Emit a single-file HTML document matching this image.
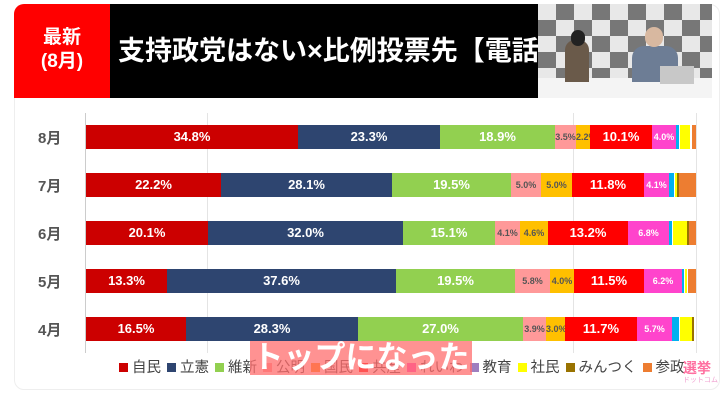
<!DOCTYPE html>
<html><head><meta charset="utf-8"><style>
*{margin:0;padding:0;box-sizing:border-box}
body{width:720px;height:400px;background:#fff;position:relative;overflow:hidden;font-family:"Liberation Sans","Noto Sans CJK JP",sans-serif}
.a{position:absolute}
.card{left:14px;top:4px;width:706px;height:386px;border:1px solid #eee;border-radius:10px;background:#fff}
.bar{position:absolute;height:24px}
.s{position:absolute;top:0;height:24px;color:#fff;font-weight:bold;font-size:13px;line-height:24px;text-align:center;white-space:nowrap;overflow:visible}
.sm{font-size:9px;color:#555}
.mo{position:absolute;left:38px;font-size:15px;font-weight:bold;color:#555}
.lg{left:113px;top:356px;font-size:14.5px;color:#444;white-space:nowrap}
.lg i{display:inline-block;width:9px;height:9px;margin:0 4px 0 6px}
</style></head><body>
<div class="a card"></div>
<div class="a" style="left:14px;top:4px;width:96px;height:94px;background:#ff0000;border-top-left-radius:10px;color:#fff;font-weight:bold;font-size:19px;text-align:center;line-height:24px;padding-top:22px">最新<br>(8月)</div>
<div class="a" style="left:110px;top:4px;width:428px;height:94px;background:#000;color:#fff;font-weight:bold;font-size:27px;line-height:94px;padding-left:8px;white-space:nowrap;overflow:hidden">支持政党はない×比例投票先【電話</div>
<div class="a" style="left:538px;top:4px;width:174px;height:76px;background:repeating-conic-gradient(#777 0 25%,#e8e8e8 0 50%) 0 0/36px 32px"></div>
<div class="a" style="left:538px;top:78px;width:174px;height:20px;background:#f4f4f4"></div>
<div class="a" style="left:565px;top:40px;width:24px;height:42px;background:#6a5a4a;border-radius:10px 10px 0 0"></div>
<div class="a" style="left:571px;top:30px;width:14px;height:16px;background:#222;border-radius:7px"></div>
<div class="a" style="left:632px;top:46px;width:46px;height:36px;background:#6d7d95;border-radius:12px 12px 0 0"></div>
<div class="a" style="left:645px;top:27px;width:18px;height:20px;background:#d8b8a0;border-radius:9px"></div>
<div class="a" style="left:660px;top:66px;width:34px;height:18px;background:#c8c8c8"></div>

<div class="a" style="left:85px;top:113px;width:1px;height:240px;background:#ccc"></div>
<div class="a" style="left:207px;top:113px;width:1px;height:240px;background:#e4e4e4"></div>
<div class="a" style="left:573px;top:113px;width:1px;height:240px;background:#e4e4e4"></div>
<div class="a" style="left:696px;top:113px;width:1px;height:240px;background:#e4e4e4"></div>

<div class="mo" style="top:127px">8月</div>
<div class="mo" style="top:175px">7月</div>
<div class="mo" style="top:223px">6月</div>
<div class="mo" style="top:271px">5月</div>
<div class="mo" style="top:319px">4月</div>

<div class="bar" style="top:125px;left:0">
<div class="s" style="left:86px;width:212px;background:#cc0000">34.8%</div>
<div class="s" style="left:298px;width:142px;background:#2e4570">23.3%</div>
<div class="s" style="left:440px;width:115px;background:#92d050">18.9%</div>
<div class="s sm" style="left:555px;width:21px;background:#ff9999">3.5%</div>
<div class="s sm" style="left:576px;width:14px;background:#ffc000">2.2%</div>
<div class="s" style="left:590px;width:62px;background:#ff0000">10.1%</div>
<div class="s sm" style="left:652px;width:24px;background:#ff44cc;color:#fff">4.0%</div>
<div class="s" style="left:676px;width:3px;background:#00b0f0"></div>
<div class="s" style="left:680px;width:10px;background:#ffff00"></div>
<div class="s" style="left:692px;width:4px;background:#ed7d31"></div>
</div>
<div class="bar" style="top:173px;left:0">
<div class="s" style="left:86px;width:135px;background:#cc0000">22.2%</div>
<div class="s" style="left:221px;width:171px;background:#2e4570">28.1%</div>
<div class="s" style="left:392px;width:119px;background:#92d050">19.5%</div>
<div class="s sm" style="left:511px;width:30px;background:#ff9999">5.0%</div>
<div class="s sm" style="left:541px;width:31px;background:#ffc000">5.0%</div>
<div class="s" style="left:572px;width:72px;background:#ff0000">11.8%</div>
<div class="s sm" style="left:644px;width:25px;background:#ff44cc;color:#fff">4.1%</div>
<div class="s" style="left:669px;width:5px;background:#00b0f0"></div>
<div class="s" style="left:675px;width:2px;background:#ffff00"></div>
<div class="s" style="left:677px;width:2px;background:#997300"></div>
<div class="s" style="left:679px;width:17px;background:#ed7d31"></div>
</div>
<div class="bar" style="top:221px;left:0">
<div class="s" style="left:86px;width:122px;background:#cc0000">20.1%</div>
<div class="s" style="left:208px;width:195px;background:#2e4570">32.0%</div>
<div class="s" style="left:403px;width:92px;background:#92d050">15.1%</div>
<div class="s sm" style="left:495px;width:25px;background:#ff9999">4.1%</div>
<div class="s sm" style="left:520px;width:28px;background:#ffc000">4.6%</div>
<div class="s" style="left:548px;width:80px;background:#ff0000">13.2%</div>
<div class="s sm" style="left:628px;width:41px;background:#ff44cc;color:#fff">6.8%</div>
<div class="s" style="left:669px;width:3px;background:#00b0f0"></div>
<div class="s" style="left:673px;width:14px;background:#ffff00"></div>
<div class="s" style="left:687px;width:2px;background:#997300"></div>
<div class="s" style="left:689px;width:7px;background:#ed7d31"></div>
</div>
<div class="bar" style="top:269px;left:0">
<div class="s" style="left:86px;width:81px;background:#cc0000">13.3%</div>
<div class="s" style="left:167px;width:229px;background:#2e4570">37.6%</div>
<div class="s" style="left:396px;width:119px;background:#92d050">19.5%</div>
<div class="s sm" style="left:515px;width:35px;background:#ff9999">5.8%</div>
<div class="s sm" style="left:550px;width:24px;background:#ffc000">4.0%</div>
<div class="s" style="left:574px;width:70px;background:#ff0000">11.5%</div>
<div class="s sm" style="left:644px;width:38px;background:#ff44cc;color:#fff">6.2%</div>
<div class="s" style="left:682px;width:2px;background:#00b0f0"></div>
<div class="s" style="left:685px;width:2px;background:#ffff00"></div>
<div class="s" style="left:688px;width:8px;background:#ed7d31"></div>
</div>
<div class="bar" style="top:317px;left:0">
<div class="s" style="left:86px;width:100px;background:#cc0000">16.5%</div>
<div class="s" style="left:186px;width:172px;background:#2e4570">28.3%</div>
<div class="s" style="left:358px;width:165px;background:#92d050">27.0%</div>
<div class="s sm" style="left:523px;width:23px;background:#ff9999">3.9%</div>
<div class="s sm" style="left:546px;width:19px;background:#ffc000">3.0%</div>
<div class="s" style="left:565px;width:72px;background:#ff0000">11.7%</div>
<div class="s sm" style="left:637px;width:35px;background:#ff44cc;color:#fff">5.7%</div>
<div class="s" style="left:672px;width:7px;background:#00b0f0"></div>
<div class="s" style="left:680px;width:12px;background:#ffff00"></div>
<div class="s" style="left:692px;width:2px;background:#997300"></div>
</div>

<div class="a lg"><i style="background:#cc0000"></i>自民<i style="background:#2e4570"></i>立憲<i style="background:#92d050"></i>維新<i style="background:#ff9999"></i>公明<i style="background:#ff8c00"></i>国民<i style="background:#ff0000"></i>共産<i style="background:#ff44cc"></i>れいわ<i style="background:#9e7fbf"></i>教育<i style="background:#ffff00"></i>社民<i style="background:#997300"></i>みんつく<i style="background:#ed7d31"></i>参政</div>
<div class="a" style="left:250px;top:341px;width:222px;height:34px;background:rgba(255,110,110,0.75);color:#fff;font-weight:bold;font-size:31px;line-height:34px;text-align:center;white-space:nowrap">トップになった</div>
<div class="a" style="left:683px;top:358px;font-size:14px;font-weight:bold;color:#ff6fa0">選挙</div>
<div class="a" style="left:683px;top:375px;font-size:7px;color:#f0a0d0">ドットコム</div>
</body></html>
